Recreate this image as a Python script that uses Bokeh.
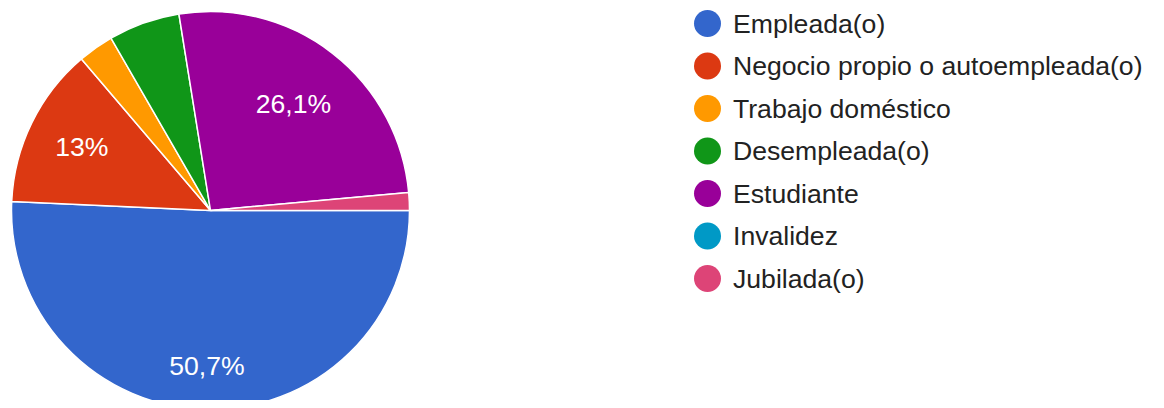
import math
from bokeh.plotting import figure
from bokeh.models import Range1d, ColumnDataSource
from bokeh.core.properties import value
from bokeh.embed import file_html
from bokeh.resources import INLINE

categories = ["Empleada(o)", "Negocio propio o autoempleada(o)", "Trabajo doméstico",
              "Desempleada(o)", "Estudiante", "Invalidez", "Jubilada(o)"]
counts = [35, 9, 2, 4, 18, 0, 1]
pct_labels = ["50,7%", "13%", "", "", "26,1%", "", ""]
colors = ["#3366cc", "#dc3912", "#ff9900", "#109618", "#990099", "#0099c6", "#dd4477"]
label_radius_frac = [0.78, 0.72, 0.7, 0.7, 0.68, 0.7, 0.7]

W, H = 1148, 400
p = figure(width=W, height=H, output_backend="svg", toolbar_location=None,
           x_range=Range1d(0, W), y_range=Range1d(0, H), min_border=0,
           outline_line_color=None, background_fill_color="white")
p.axis.visible = False
p.grid.visible = False

cx, cy, r = 210, 190, 199
total = sum(counts)
cum = 0
ws = dict(start=[], end=[], color=[])
lx, ly, lt = [], [], []
for i, c in enumerate(counts):
    s = cum / total
    cum += c
    e = cum / total
    if c == 0:
        continue
    ws["start"].append(-e * 2 * math.pi)
    ws["end"].append(-s * 2 * math.pi)
    ws["color"].append(colors[i])
    if pct_labels[i]:
        mid = -(s + e) / 2 * 2 * math.pi
        rr = r * label_radius_frac[i]
        lx.append(cx + rr * math.cos(mid))
        ly.append(cy + rr * math.sin(mid))
        lt.append(pct_labels[i])

p.wedge(x=cx, y=cy, radius=r, start_angle="start", end_angle="end",
        fill_color="color", line_color="white", line_width=1.5,
        source=ColumnDataSource(ws))
p.text(x=lx, y=ly, text=lt, text_color="white", text_font=value("Liberation Sans"),
       text_font_size="26.6px", text_align="center", text_baseline="middle")

# legend
leg_x, leg_y0, leg_dy = 707, 377, 42.5
ys = [leg_y0 - i * leg_dy for i in range(len(categories))]
p.circle(x=[leg_x] * len(categories), y=ys, radius=13.5, fill_color=colors, line_color=None)
p.text(x=[leg_x + 25.5] * len(categories), y=ys, text=categories, text_color="#222222",
       text_font=value("Liberation Sans"), text_font_size="26.6px",
       text_align="left", text_baseline="middle")

open("out.html", "w").write(file_html(p, INLINE))
